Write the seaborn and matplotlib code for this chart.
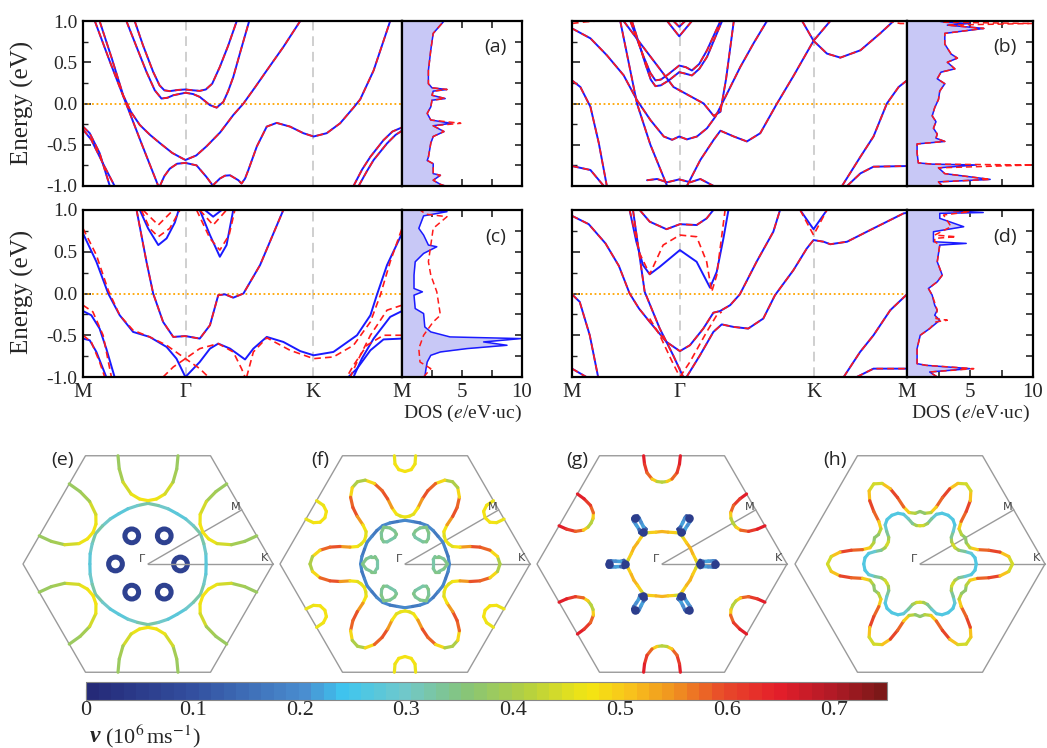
import numpy as np
import matplotlib.pyplot as plt
import seaborn as sns
from matplotlib.collections import LineCollection
from matplotlib.colors import LinearSegmentedColormap, Normalize

sns.set_style('white')
plt.rcParams['font.family'] = ['Liberation Serif', 'DejaVu Serif']
plt.rcParams['mathtext.fontset'] = 'stix'

# ---------------- band data (k along M-G-K-M scaled 0..1, E in eV) ----------------
K_GAMMA, K_K = 0.322, 0.721

bands_a = [
    [(0.037, 1.0), (0.085, 0.5), (0.135, 0.0), (0.185, -0.5), (0.236, -1.0)],
    [(0.052, 1.0), (0.09, 0.55), (0.126, 0.1), (0.15, -0.1), (0.178, -0.26), (0.21, -0.38), (0.241, -0.48),
     (0.28, -0.6), (0.321, -0.685), (0.355, -0.63), (0.387, -0.52), (0.43, -0.35), (0.471, -0.14), (0.503, 0.0),
     (0.54, 0.2), (0.576, 0.40), (0.628, 0.685), (0.681, 1.0)],
    [(0.136, 1.0), (0.168, 0.685), (0.199, 0.383), (0.225, 0.16), (0.246, 0.06), (0.265, 0.07), (0.283, 0.10),
     (0.321, 0.13), (0.345, 0.115), (0.366, 0.08), (0.398, -0.02), (0.419, -0.05), (0.44, 0.02), (0.455, 0.15),
     (0.471, 0.32), (0.495, 0.65), (0.521, 1.0)],
    [(0.162, 1.0), (0.188, 0.706), (0.22, 0.383), (0.24, 0.22), (0.255, 0.16), (0.272, 0.15), (0.30, 0.165),
     (0.321, 0.17), (0.345, 0.16), (0.366, 0.153), (0.385, 0.17), (0.405, 0.24), (0.429, 0.444), (0.455, 0.70),
     (0.482, 1.0)],
    [(0.0, -0.28), (0.021, -0.36), (0.052, -0.60), (0.084, -1.0)],
    [(0.0, -0.315), (0.026, -0.44), (0.063, -0.73), (0.099, -1.0)],
    [(0.241, -1.0), (0.255, -0.88), (0.272, -0.79), (0.295, -0.73), (0.321, -0.72), (0.356, -0.75), (0.387, -0.89),
     (0.408, -1.0)],
    [(0.405, -1.0), (0.429, -0.91), (0.445, -0.875), (0.461, -0.87), (0.487, -0.93), (0.497, -0.97), (0.508, -0.91),
     (0.518, -0.81), (0.545, -0.52), (0.576, -0.28), (0.607, -0.235), (0.649, -0.28), (0.691, -0.36), (0.723, -0.40),
     (0.764, -0.36), (0.806, -0.24), (0.848, -0.05), (0.869, 0.05), (0.911, 0.40), (0.963, 1.0)],
    [(0.848, -1.0), (0.875, -0.80), (0.901, -0.645), (0.942, -0.444), (0.97, -0.34), (1.0, -0.29)],
    [(0.864, -1.0), (0.89, -0.82), (0.911, -0.685), (0.953, -0.484), (0.98, -0.38), (1.0, -0.33)],
]
red_a = bands_a

bands_b = [
    [(0.0, 0.28), (0.025, 0.20), (0.055, -0.04), (0.08, -0.48), (0.104, -1.0)],
    [(0.0, 0.91), (0.055, 0.79), (0.104, 0.585), (0.154, 0.343), (0.194, 0.04), (0.234, -0.20), (0.274, -0.40),
     (0.299, -0.44), (0.32, -0.40), (0.343, -0.435), (0.373, -0.40), (0.403, -0.30), (0.428, -0.16), (0.453, 0.04),
     (0.502, 0.44), (0.542, 0.73), (0.582, 1.0)],
    [(0.144, 1.0), (0.194, 0.0), (0.234, -0.5), (0.284, -1.0)],
    [(0.154, 1.0), (0.204, 0.73), (0.303, 0.20), (0.393, 0.0), (0.423, -0.15), (0.443, -0.10), (0.46, 0.3),
     (0.483, 1.0)],
    [(0.174, 1.0), (0.214, 0.565), (0.234, 0.37), (0.249, 0.28), (0.265, 0.29), (0.284, 0.343), (0.32, 0.46),
     (0.34, 0.44), (0.358, 0.40), (0.38, 0.48), (0.403, 0.645), (0.443, 1.0)],
    [(0.179, 1.0), (0.219, 0.48), (0.235, 0.29), (0.249, 0.21), (0.265, 0.22), (0.289, 0.28), (0.32, 0.38),
     (0.34, 0.36), (0.358, 0.34), (0.38, 0.42), (0.403, 0.565), (0.448, 1.0)],
    [(0.284, 1.0), (0.32, 0.815), (0.358, 1.0)],
    [(0.303, 1.0), (0.32, 0.93), (0.338, 1.0)],
    [(0.224, -0.93), (0.254, -0.915), (0.284, -0.955), (0.32, -0.92), (0.353, -0.955), (0.383, -0.915),
     (0.423, -1.0)],
    [(0.343, -1.0), (0.383, -0.685), (0.423, -0.44), (0.443, -0.33), (0.483, -0.40), (0.522, -0.46),
     (0.562, -0.36), (0.612, 0.0), (0.662, 0.34), (0.721, 0.76), (0.771, 1.0)],
    [(0.687, 1.0), (0.721, 0.76), (0.761, 0.605), (0.801, 0.556), (0.861, 0.645), (0.92, 0.85), (0.96, 1.0)],
    [(0.806, -1.0), (0.861, -0.645), (0.90, -0.40), (0.94, 0.0), (0.975, 0.20), (1.0, 0.28)],
    [(0.821, -1.0), (0.861, -0.847), (0.90, -0.766), (1.0, -0.758)],
    [(0.0, -0.758), (0.055, -0.806), (0.095, -1.0)],
]
red_b = bands_b + [[(0.0, 0.97), (0.04, 0.99), (0.075, 1.0)], [(0.94, 1.0), (0.98, 0.97), (1.0, 0.97)]]

bands_c = [
    [(0.0, 0.72), (0.042, 0.38), (0.079, 0.0), (0.115, -0.26), (0.157, -0.46), (0.209, -0.52), (0.262, -0.64),
     (0.293, -0.78), (0.321, -1.0), (0.366, -0.82), (0.398, -0.66), (0.424, -0.60), (0.461, -0.66), (0.508, -0.79),
     (0.534, -0.66), (0.576, -0.52), (0.628, -0.58), (0.681, -0.69), (0.723, -0.74), (0.785, -0.70), (0.859, -0.50),
     (0.901, -0.26), (0.921, -0.02), (0.953, 0.34), (1.0, 0.72)],
    [(0.0, -0.21), (0.026, -0.26), (0.052, -0.42), (0.073, -0.66), (0.099, -1.0)],
    [(0.0, -0.54), (0.021, -0.56), (0.042, -0.70), (0.073, -1.0)],
    [(0.168, 1.0), (0.199, 0.38), (0.22, 0.0), (0.251, -0.34), (0.283, -0.52), (0.321, -0.51), (0.366, -0.54),
     (0.398, -0.38), (0.424, -0.02), (0.445, -0.01), (0.471, -0.05), (0.503, 0.0), (0.555, 0.34), (0.628, 1.0)],
    [(0.178, 1.0), (0.204, 0.78), (0.236, 0.58), (0.262, 0.66), (0.288, 0.85), (0.30, 1.0)],
    [(0.366, 1.0), (0.398, 0.70), (0.429, 0.44), (0.45, 0.58), (0.471, 1.0)],
    [(0.382, 1.0), (0.408, 0.92), (0.435, 1.0)],
    [(1.0, -0.21), (0.963, -0.28), (0.911, -0.54), (0.874, -0.78), (0.848, -1.0)],
    [(1.0, -0.54), (0.942, -0.55), (0.901, -0.68), (0.859, -0.90), (0.832, -1.0)],
]
red_c = [
    [(0.0, 0.78), (0.042, 0.46), (0.079, 0.04), (0.115, -0.26), (0.157, -0.44), (0.209, -0.52), (0.262, -0.62),
     (0.321, -0.78), (0.366, -0.90), (0.393, -1.0)],
    [(0.251, -1.0), (0.283, -0.88), (0.321, -0.78), (0.366, -0.66), (0.424, -0.60), (0.471, -0.70), (0.497, -0.90),
     (0.508, -1.0)],
    [(0.513, -1.0), (0.534, -0.70), (0.576, -0.53), (0.649, -0.68), (0.723, -0.78), (0.785, -0.76), (0.848, -0.62),
     (0.901, -0.34), (0.932, -0.02), (0.963, 0.38), (1.0, 0.78)],
    [(0.0, -0.14), (0.031, -0.22), (0.063, -0.50), (0.089, -1.0)],
    [(0.0, -0.50), (0.026, -0.58), (0.052, -0.82), (0.068, -1.0)],
    [(1.0, -0.14), (0.953, -0.20), (0.901, -0.50), (0.859, -0.82), (0.838, -1.0)],
    [(1.0, -0.50), (0.942, -0.50), (0.89, -0.62), (0.848, -0.86), (0.827, -1.0)],
    [(0.183, 1.0), (0.209, 0.78), (0.236, 0.68), (0.272, 0.78), (0.304, 1.0)],
    [(0.188, 1.0), (0.236, 0.82), (0.283, 1.0)],
    [(0.356, 1.0), (0.398, 0.66), (0.429, 0.52), (0.458, 0.70), (0.476, 1.0)],
    [(0.366, 1.0), (0.408, 0.82), (0.45, 1.0)],
    bands_c[3],
]

bands_d = [
    [(0.0, 0.93), (0.05, 0.83), (0.10, 0.60), (0.14, 0.33), (0.172, 0.0), (0.20, -0.18), (0.232, -0.34),
     (0.282, -0.58), (0.322, -0.69), (0.352, -0.62), (0.392, -0.42), (0.422, -0.23), (0.442, -0.21), (0.472, -0.14),
     (0.501, -0.01), (0.551, 0.38), (0.601, 0.74), (0.621, 1.0)],
    [(0.342, -1.0), (0.382, -0.74), (0.422, -0.46), (0.447, -0.37), (0.482, -0.40), (0.526, -0.42), (0.571, -0.30),
     (0.606, -0.02), (0.661, 0.28), (0.701, 0.54), (0.721, 0.64), (0.751, 0.62), (0.771, 0.59), (0.821, 0.62),
     (0.90, 0.78), (0.99, 0.96), (1.0, 0.965)],
    [(0.0, -0.01), (0.023, -0.10), (0.053, -0.50), (0.078, -1.0)],
    [(0.172, 1.0), (0.192, 0.62), (0.212, 0.34), (0.232, 0.23), (0.262, 0.32), (0.322, 0.52), (0.372, 0.38),
     (0.412, 0.07), (0.432, 0.26), (0.452, 0.66), (0.467, 1.0)],
    [(0.202, 1.0), (0.232, 0.86), (0.282, 0.77), (0.322, 0.83), (0.372, 0.82), (0.402, 0.90), (0.422, 1.0)],
    [(0.182, 1.0), (0.217, 0.02), (0.262, -0.42), (0.302, -0.74), (0.332, -1.0)],
    [(0.681, 1.0), (0.721, 0.77), (0.761, 1.0)],
    [(0.811, -1.0), (0.86, -0.70), (0.90, -0.50), (0.95, -0.20), (1.0, -0.01)],
    [(0.85, -1.0), (0.90, -0.90), (1.0, -0.90)],
    [(0.0, -0.90), (0.043, -1.0)],
]
red_d = [bands_d[i] for i in (0, 1, 2, 4, 5, 7, 8, 9)] + [
    [(0.172, 1.0), (0.202, 0.48), (0.232, 0.23), (0.272, 0.58), (0.322, 0.70), (0.372, 0.68), (0.402, 0.38),
     (0.417, 0.02), (0.432, 0.22), (0.457, 1.0)],
    [(0.232, -0.30), (0.262, -0.50), (0.297, -0.80), (0.322, -1.0)],
    [(0.322, -1.0), (0.352, -0.82), (0.402, -0.46), (0.432, -0.26), (0.447, -0.22)],
    [(0.681, 1.0), (0.721, 0.70), (0.761, 1.0)],
]

# ---------------- DOS data (E in eV, DOS in e/eV.uc) ----------------
dos_a_E = [-1.0, -0.98, -0.93, -0.87, -0.85, -0.73, -0.69, -0.65, -0.48, -0.40, -0.34, -0.27, -0.24, -0.20, -0.12,
           -0.04, 0.04, 0.06, 0.10, 0.15, 0.17, 0.19, 0.24, 0.40, 0.65, 0.85, 0.95, 1.0]
dos_a = [3.6, 3.2, 2.6, 3.2, 2.6, 2.6, 2.1, 2.2, 2.4, 2.6, 3.5, 2.6, 4.1, 2.4, 2.1, 2.4, 2.5, 3.6, 2.5, 2.6, 3.75,
         2.5, 2.2, 2.2, 2.4, 2.6, 3.2, 3.5]
dos_a_red = [3.6, 3.2, 2.6, 3.2, 2.6, 2.6, 2.1, 2.2, 2.4, 2.6, 3.5, 2.6, 4.9, 2.4, 2.1, 2.4, 2.5, 3.6, 2.5, 2.6, 3.75,
             2.5, 2.2, 2.2, 2.4, 2.6, 3.2, 3.5]

dos_b_E = [-1.0, -0.95, -0.92, -0.85, -0.78, -0.745, -0.735, -0.72, -0.6, -0.49, -0.46, -0.42, -0.37, -0.3, -0.22,
           -0.15, -0.05, 0.05, 0.15, 0.24, 0.3, 0.38, 0.42, 0.5, 0.55, 0.6, 0.72, 0.8, 0.85, 0.91, 0.95, 0.97, 0.985,
           1.0]
dos_b = [2.8, 2.5, 6.6, 3.0, 2.5, 5.5, 2.0, 0.9, 0.8, 0.8, 3.0, 2.3, 2.4, 2.1, 2.3, 2.0, 2.2, 2.5, 2.6, 3.0, 2.4,
         2.7, 3.8, 3.2, 4.0, 3.5, 3.0, 3.0, 3.0, 6.1, 3.2, 5.0, 3.0, 2.5]
dos_b_red = [2.8, 2.5, 6.6, 3.0, 2.5, 10.0, 2.0, 0.9, 0.8, 0.8, 3.0, 2.3, 2.4, 2.1, 2.3, 2.0, 2.2, 2.5, 2.6, 3.0, 2.4,
             2.7, 3.8, 3.2, 4.0, 3.5, 3.0, 3.0, 3.0, 6.1, 3.2, 10.0, 3.0, 2.5]

dos_c_E = [-1.0, -0.90, -0.82, -0.74, -0.70, -0.66, -0.62, -0.58, -0.54, -0.52, -0.46, -0.40, -0.24, -0.18, -0.02,
           0.02, 0.06, 0.22, 0.38, 0.48, 0.56, 0.58, 0.70, 0.78, 0.93, 0.98, 1.0]
dos_c = [1.9, 2.0, 2.1, 2.4, 3.2, 5.4, 8.75, 6.8, 9.9, 4.0, 2.4, 1.9, 1.8, 1.1, 1.0, 1.7, 1.0, 1.0, 1.1, 1.8, 2.9,
         2.2, 1.8, 1.4, 1.8, 3.75, 2.0]
dos_c_red_E = [-1.0, -0.90, -0.82, -0.66, -0.50, -0.34, -0.26, 0.02, 0.22, 0.38, 0.78, 0.92, 0.95, 1.0]
dos_c_red = [1.8, 2.4, 1.5, 1.4, 1.8, 2.6, 3.2, 2.9, 2.4, 2.2, 2.6, 3.75, 2.0, 1.5]

dos_d_E = [-1.0, -0.94, -0.90, -0.86, -0.84, -0.66, -0.5, -0.42, -0.32, -0.26, -0.2, -0.14, -0.02, 0.06, 0.14, 0.22,
           0.38, 0.58, 0.60, 0.62, 0.74, 0.80, 0.90, 0.96, 0.97, 1.0]
dos_d = [2.4, 1.8, 5.0, 1.5, 0.8, 0.8, 1.05, 1.8, 2.6, 2.2, 2.4, 2.2, 2.0, 1.7, 2.4, 2.8, 2.4, 2.6, 4.7, 2.1, 2.1,
         4.5, 2.6, 2.6, 6.05, 2.6]
dos_d_red_E = [-1.0, -0.94, -0.90, -0.86, -0.84, -0.66, -0.5, -0.42, -0.34, -0.32, -0.3, -0.2, -0.02, 0.06, 0.14,
               0.22, 0.38, 0.58, 0.62, 0.66, 0.68, 0.70, 0.80, 0.94, 0.98, 1.0]
dos_d_red = [2.4, 1.8, 5.3, 1.5, 0.8, 0.8, 1.05, 1.8, 2.3, 3.2, 2.3, 2.4, 2.0, 1.7, 2.4, 2.8, 2.4, 2.6, 2.2, 2.2,
             3.9, 2.2, 3.5, 2.9, 5.0, 2.6]

# ---------------- Fermi surface data (units of |GK|, velocity in 1e6 m/s) ----------------
fs_e_ring_theta = [0, 10, 20, 30]
fs_e_ring_r = [0.465, 0.47, 0.475, 0.485]
fs_e_ring_v = [0.26, 0.28, 0.31, 0.34]
fs_e_dot_r, fs_e_dot_size, fs_e_dot_v = 0.26, 0.055, 0.07
fs_e_m = [(-0.24, 0.866), (-0.23, 0.76), (-0.20, 0.655), (-0.135, 0.56), (-0.068, 0.52), (0.0, 0.507)]
fs_e_m_v = [0.40, 0.37, 0.42, 0.46, 0.47, 0.47]

fs_f_ring_theta = [0, 10, 20, 30]
fs_f_ring_r = [0.355, 0.35, 0.345, 0.35]
fs_f_ring_v = [0.20, 0.18, 0.17, 0.21]
fs_f_flower = [(0.76, 0.0), (0.74, 0.06), (0.68, 0.11), (0.60, 0.135), (0.52, 0.14), (0.44, 0.135), (0.38, 0.14),
               (0.35, 0.16), (0.325, 0.1875)]
fs_f_flower_v = [0.38, 0.42, 0.55, 0.60, 0.58, 0.50, 0.46, 0.45, 0.47]
fs_f_tri_r = 0.27
fs_f_tri = [(0.07, 0.0), (0.04, 0.04), (0.0, 0.06), (-0.03, 0.06), (-0.045, 0.035), (-0.045, 0.0)]
fs_f_tri_v = [0.36, 0.34, 0.33, 0.35, 0.32, 0.33]
fs_f_m = [(-0.085, 0.866), (-0.08, 0.80), (-0.05, 0.755), (0.0, 0.74)]
fs_f_m_v = [0.46, 0.47, 0.47, 0.48]

fs_g_hex = [(0.285, 0.0), (0.27, 0.035), (0.245, 0.085), (0.225, 0.13)]
fs_g_hex_v = [0.40, 0.48, 0.52, 0.53]
fs_g_bell = [(0.435, 0.0), (0.43, 0.022), (0.41, 0.025), (0.37, 0.022), (0.33, 0.02), (0.305, 0.028), (0.29, 0.0)]
fs_g_bell_v = [0.05, 0.06, 0.18, 0.23, 0.20, 0.06, 0.05]
fs_g_dot_u, fs_g_dot_v = [0.30, 0.425], 0.05
fs_g_m = [(-0.147, 0.866), (-0.14, 0.80), (-0.12, 0.73), (-0.08, 0.68), (-0.04, 0.66), (0.0, 0.655)]
fs_g_m_v = [0.66, 0.63, 0.60, 0.55, 0.45, 0.38]

fs_h_outer = [(0.74, 0.0), (0.71, 0.06), (0.64, 0.095), (0.55, 0.11), (0.46, 0.115), (0.40, 0.13), (0.37, 0.17),
              (0.364, 0.21)]
fs_h_outer_v = [0.42, 0.45, 0.58, 0.62, 0.55, 0.45, 0.38, 0.35]
fs_h_inner = [(0.45, 0.0), (0.44, 0.05), (0.41, 0.085), (0.36, 0.10), (0.31, 0.11), (0.28, 0.13), (0.265, 0.153)]
fs_h_inner_v = [0.27, 0.26, 0.27, 0.30, 0.36, 0.43, 0.46]

cbar_ticks = [0, 0.1, 0.2, 0.3, 0.4, 0.5, 0.6, 0.7]
V_MAX = 0.75

# ---------------- figure ----------------
W, H = 1047, 748
fig = plt.figure(figsize=(W / 100, H / 100), dpi=100)


def px_axes(x0, y0, x1, y1):
    return fig.add_axes([x0 / W, 1 - y1 / H, (x1 - x0) / W, (y1 - y0) / H])


BLUE, RED = '#1a1aff', '#ff1a1a'


def draw_bands(ax, blue, red, bottom, left):
    ax.axvline(K_GAMMA, color='#cfcfcf', ls=(0, (5, 3)), lw=1.4)
    ax.axvline(K_K, color='#cfcfcf', ls=(0, (5, 3)), lw=1.4)
    ax.axhline(0, color='orange', ls=(0, (1, 1.5)), lw=1.3)
    for b in blue:
        k, e = zip(*b)
        sns.lineplot(x=list(k), y=list(e), sort=False, estimator=None, color=BLUE, lw=1.4, ax=ax)
    for b in red:
        k, e = zip(*b)
        sns.lineplot(x=list(k), y=list(e), sort=False, estimator=None, color=RED, lw=1.2,
                     linestyle=(0, (4, 2.5)), ax=ax)
    ax.set_xlim(0, 1)
    ax.set_ylim(-1, 1)
    ax.set_xticks([0, K_GAMMA, K_K, 1])
    ax.set_xticklabels(['M', 'Γ', 'K', 'M'] if bottom else [])
    ax.tick_params(axis='x', length=0, labelsize=15, pad=4)
    ax.set_yticks([-1, -0.5, 0, 0.5, 1])
    ax.set_yticks([-0.75, -0.25, 0.25, 0.75], minor=True)
    ax.set_yticklabels(['-1.0', '-0.5', '0.0', '0.5', '1.0'] if left else [])
    ax.tick_params(axis='y', which='major', direction='in', length=6, width=1.2, left=True, labelsize=14, pad=4)
    ax.tick_params(axis='y', which='minor', direction='in', length=3.5, width=1.0, left=True)
    for s in ax.spines.values():
        s.set_linewidth(1.6)
        s.set_color('black')


def draw_dos(ax, E, d, Er, dr, label, bottom):
    ax.fill_betweenx(E, 0, d, color='#c8c8f6', lw=0)
    sns.lineplot(x=d, y=E, orient='y', sort=False, estimator=None, color=BLUE, lw=1.1, ax=ax)
    sns.lineplot(x=dr, y=Er, orient='y', sort=False, estimator=None, color=RED, lw=1.1,
                 linestyle=(0, (4, 2.5)), ax=ax)
    ax.set_xlim(0, 10)
    ax.set_ylim(-1, 1)
    ax.set_xticks([2.5, 5, 7.5, 10])
    ax.set_xticklabels(['', '5', '', '10'] if bottom else [])
    ax.tick_params(axis='x', direction='in', top=True, bottom=True, length=5, width=1.2, labelsize=15, pad=4)
    ax.set_yticks([-1, -0.5, 0, 0.5, 1])
    ax.set_yticks([-0.75, -0.25, 0.25, 0.75], minor=True)
    ax.tick_params(axis='y', which='both', direction='in', left=False, right=True, labelleft=False,
                   length=5, width=1.2)
    if bottom:
        ax.set_xlabel(r'DOS ($e$/eV$\cdot$uc)', fontsize=14, labelpad=1)
    ax.text(0.78, 0.84, label, transform=ax.transAxes, fontsize=14, family=['Open Sans', 'DejaVu Sans'],
            ha='center', va='center')
    for s in ax.spines.values():
        s.set_linewidth(1.6)
        s.set_color('black')


rows = [(21, 186), (210, 377)]
panels = [
    (83, 402, 522, rows[0], bands_a, red_a, dos_a_E, dos_a, dos_a_E, dos_a_red, '(a)', False, True),
    (572, 907, 1033, rows[0], bands_b, red_b, dos_b_E, dos_b, dos_b_E, dos_b_red, '(b)', False, False),
    (83, 402, 522, rows[1], bands_c, red_c, dos_c_E, dos_c, dos_c_red_E, dos_c_red, '(c)', True, True),
    (572, 907, 1033, rows[1], bands_d, red_d, dos_d_E, dos_d, dos_d_red_E, dos_d_red, '(d)', True, False),
]
for x0, x1, x2, (y0, y1), bb, rb, dE, dd, dEr, ddr, lab, bottom, left in panels:
    axb = px_axes(x0, y0, x1, y1)
    draw_bands(axb, bb, rb, bottom, left)
    axd = px_axes(x1, y0, x2, y1)
    draw_dos(axd, dE, dd, dEr, ddr, lab, bottom)

for yc in (103, 292):
    fig.text(22 / W, 1 - yc / H, 'Energy (eV)', rotation=90, fontsize=18, ha='center', va='center')

# ---------------- Fermi surfaces ----------------
cmap = LinearSegmentedColormap.from_list('vel', [
    (0.0, '#252a78'), (0.13, '#3350a0'), (0.27, '#4a8ed0'), (0.32, '#3ec6f0'), (0.40, '#72c8c8'),
    (0.47, '#84c47c'), (0.55, '#b4d040'), (0.63, '#f4e612'), (0.68, '#f8c41c'), (0.74, '#f09020'),
    (0.80, '#e84a2a'), (0.87, '#e41e2a'), (0.94, '#b01a26'), (1.0, '#7c1818')], N=64)
norm = Normalize(0, V_MAX)


def rot(p, deg):
    a = np.deg2rad(deg)
    c, s = np.cos(a), np.sin(a)
    p = np.asarray(p, float)
    return np.column_stack([c * p[:, 0] - s * p[:, 1], s * p[:, 0] + c * p[:, 1]])


def mirror(p, deg):
    a = np.deg2rad(2 * deg)
    c, s = np.cos(a), np.sin(a)
    p = np.asarray(p, float)
    return np.column_stack([c * p[:, 0] + s * p[:, 1], s * p[:, 0] - c * p[:, 1]])


def colored(ax, pts, vals, lw=2.3):
    pts = np.asarray(pts, float)
    vals = np.asarray(vals, float)
    segs = np.stack([pts[:-1], pts[1:]], axis=1)
    lc = LineCollection(segs, cmap=cmap, norm=norm, linewidths=lw, capstyle='round', joinstyle='round')
    lc.set_array((vals[:-1] + vals[1:]) / 2)
    ax.add_collection(lc)


def star(ax, half, hv, lw=2.3):
    half = np.asarray(half, float)
    hv = list(hv)
    sec = np.vstack([half, mirror(half, 30)[::-1][1:]])
    sv = hv + hv[::-1][1:]
    pts = np.vstack([rot(sec[:-1], 60 * k) for k in range(6)] + [sec[:1]])
    vals = sv[:-1] * 6 + sv[:1]
    colored(ax, pts, vals, lw)


def polar(theta, r):
    t = np.deg2rad(theta)
    return np.column_stack([np.asarray(r) * np.cos(t), np.asarray(r) * np.sin(t)])


def m_pockets(ax, half, hv, lw=2.3):
    half = np.asarray(half, float)
    full = np.vstack([half, (half * [-1, 1])[::-1][1:]])
    fv = list(hv) + list(hv)[::-1][1:]
    for k in range(6):
        colored(ax, rot(full, 60 * k), fv, lw)


def k_pockets(ax, half, hv, r0, lw=2.3):
    half = np.asarray(half, float)
    full = np.vstack([half, (half * [1, -1])[::-1][1:], half[:1]]) + [r0, 0]
    fv = list(hv) + list(hv)[::-1][1:] + list(hv)[:1]
    for k in range(6):
        colored(ax, rot(full, 60 * k), fv, lw)


def bz(ax, label):
    ang = np.deg2rad(np.arange(0, 361, 60))
    ax.plot(np.cos(ang), np.sin(ang), color='#9a9a9a', lw=1.0)
    ax.plot([0, 0.75], [0, 0.433], color='#9a9a9a', lw=1.0)
    ax.plot([0, 1], [0, 0], color='#9a9a9a', lw=1.0)
    ax.text(-0.02, 0.0, 'Γ', fontsize=8, color='#444444', ha='right', va='bottom',
            family=['DejaVu Sans'])
    ax.text(0.70, 0.46, 'M', fontsize=8, color='#444444', ha='center', va='center', family=['DejaVu Sans'])
    ax.text(0.93, 0.01, 'K', fontsize=8, color='#444444', ha='center', va='bottom', family=['DejaVu Sans'])
    ax.text(-0.68, 0.83, label, fontsize=14, family=['Open Sans', 'DejaVu Sans'], ha='center', va='center')


SCALE = 125.0
for cx, lab in [(148, '(e)'), (405, '(f)'), (662, '(g)'), (920, '(h)')]:
    ax = px_axes(cx - 131, 564 - 116, cx + 131, 564 + 116)
    ax.set_xlim(-131 / SCALE, 131 / SCALE)
    ax.set_ylim(-116 / SCALE, 116 / SCALE)
    ax.axis('off')
    bz(ax, lab)
    if lab == '(e)':
        half = polar(fs_e_ring_theta, fs_e_ring_r)
        star(ax, half, fs_e_ring_v)
        for k in range(6):
            a = np.deg2rad(60 * k)
            ax.add_patch(plt.Circle((fs_e_dot_r * np.cos(a), fs_e_dot_r * np.sin(a)), fs_e_dot_size, fill=False,
                                    lw=3.6, ec=cmap(norm(fs_e_dot_v))))
        m_pockets(ax, fs_e_m, fs_e_m_v)
    elif lab == '(f)':
        star(ax, polar(fs_f_ring_theta, fs_f_ring_r), fs_f_ring_v)
        star(ax, fs_f_flower, fs_f_flower_v)
        k_pockets(ax, fs_f_tri, fs_f_tri_v, fs_f_tri_r)
        m_pockets(ax, fs_f_m, fs_f_m_v)
    elif lab == '(g)':
        star(ax, fs_g_hex, fs_g_hex_v)
        k_pockets(ax, fs_g_bell, fs_g_bell_v, 0.0, lw=2.6)
        for k in range(6):
            a = np.deg2rad(60 * k)
            u = np.asarray(fs_g_dot_u)
            ax.scatter(u * np.cos(a), u * np.sin(a), s=38, color=cmap(norm(fs_g_dot_v)), lw=0, zorder=3)
        m_pockets(ax, fs_g_m, fs_g_m_v)
    else:
        star(ax, fs_h_outer, fs_h_outer_v)
        star(ax, fs_h_inner, fs_h_inner_v)

# ---------------- colorbar ----------------
cax = px_axes(86, 682, 887, 700)
sm = plt.cm.ScalarMappable(norm=norm, cmap=cmap)
cb = fig.colorbar(sm, cax=cax, orientation='horizontal', ticks=cbar_ticks)
cb.ax.set_xticklabels(['0' if t == 0 else f'{t:.1f}' for t in cbar_ticks])
cb.ax.tick_params(direction='in', length=8, width=0.8, color='#555555', labelsize=16, pad=1)
cb.outline.set_edgecolor('#888888')
cb.outline.set_linewidth(0.8)
fig.text(90 / W, 1 - 736 / H, 'v', fontsize=17, style='italic', weight='bold', va='center', ha='left')
fig.text(105 / W, 1 - 736 / H, r'(10$^{6}\,$ms$^{-1}$)', fontsize=16, va='center', ha='left')

fig.savefig('out.png', dpi=100)
